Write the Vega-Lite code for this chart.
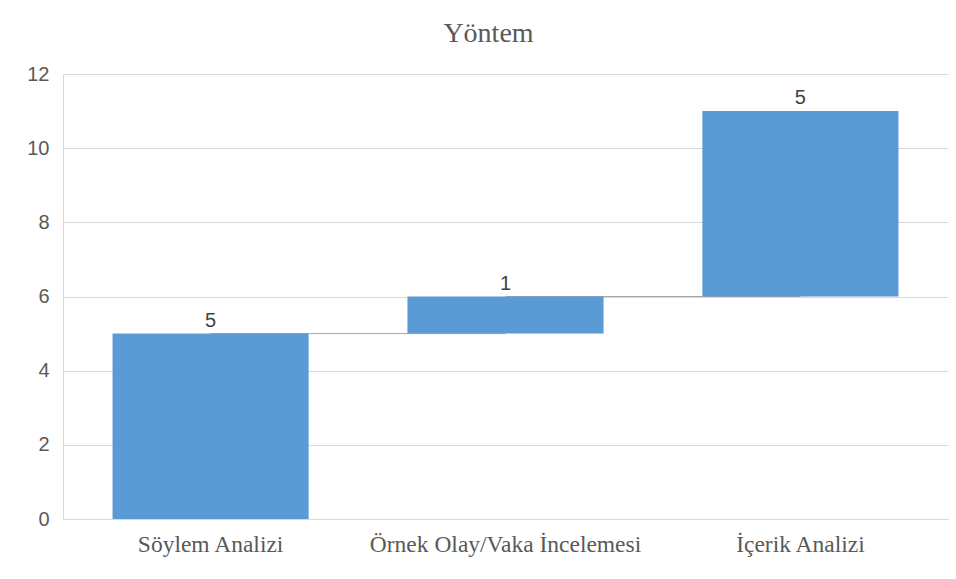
{
  "$schema": "https://vega.github.io/schema/vega-lite/v6.json",
  "autosize": "none",
  "width": 885,
  "height": 445,
  "padding": {"left": 63, "top": 74, "right": 8, "bottom": 60},
  "background": "white",
  "title": {
    "text": "Yöntem",
    "font": "Liberation Serif",
    "fontSize": 28,
    "fontWeight": "normal",
    "color": "#595959",
    "offset": 16,
    "dx": -17
  },
  "config": {
    "view": {"stroke": null},
    "axis": {
      "gridColor": "#d9d9d9",
      "domainColor": "#d9d9d9",
      "tickColor": "#d9d9d9",
      "labelColor": "#595959",
      "titleColor": "#595959"
    }
  },
  "data": {
    "values": [
      {"category": "Söylem Analizi", "start": 0, "end": 5, "amount": 5, "next": "Örnek Olay/Vaka İncelemesi"},
      {"category": "Örnek Olay/Vaka İncelemesi", "start": 5, "end": 6, "amount": 1, "next": "İçerik Analizi"},
      {"category": "İçerik Analizi", "start": 6, "end": 11, "amount": 5, "next": null}
    ]
  },
  "layer": [
    {
      "transform": [{"filter": "datum.next != null"}],
      "mark": {"type": "rule", "color": "#a6a6a6", "strokeWidth": 1},
      "encoding": {
        "x": {"field": "category", "type": "nominal", "sort": null, "bandPosition": 0.5},
        "x2": {"field": "next"},
        "y": {"field": "end", "type": "quantitative"}
      }
    },
    {
      "mark": {"type": "bar", "color": "#5b9bd5"},
      "encoding": {
        "x": {
          "field": "category",
          "type": "nominal",
          "sort": null,
          "scale": {"paddingInner": 0.335, "paddingOuter": 0.168},
          "axis": {
            "title": null,
            "labelAngle": 0,
            "labelAlign": "center",
            "labelLimit": 0,
            "labelFont": "Liberation Serif",
            "labelFontSize": 23.5,
            "labelPadding": 25,
            "ticks": false,
            "domain": true
          }
        },
        "y": {
          "field": "start",
          "type": "quantitative",
          "scale": {"domain": [0, 12]},
          "axis": {
            "title": null,
            "values": [0, 2, 4, 6, 8, 10, 12],
            "labelFont": "Liberation Sans",
            "labelFontSize": 20,
            "labelPadding": 14,
            "ticks": false,
            "domain": true,
            "grid": true
          }
        },
        "y2": {"field": "end"}
      }
    },
    {
      "mark": {"type": "text", "font": "Liberation Sans", "fontSize": 20, "color": "#404040", "baseline": "bottom", "dy": -3},
      "encoding": {
        "x": {"field": "category", "type": "nominal", "sort": null},
        "y": {"field": "end", "type": "quantitative"},
        "text": {"field": "amount", "type": "quantitative"}
      }
    }
  ]
}
